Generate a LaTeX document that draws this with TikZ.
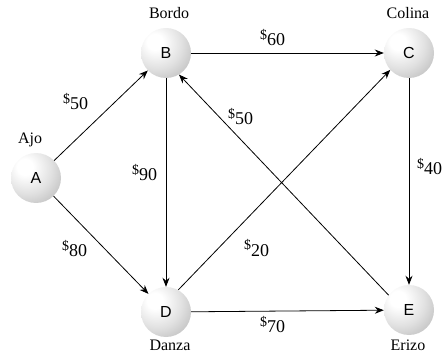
\documentclass[tikz,border=0pt]{standalone}
\usepackage{fontspec}
\setmainfont{Liberation Serif}
\newfontfamily\ballfont{Liberation Sans}
\usetikzlibrary{arrows.meta}
\pgfdeclareradialshading{sphereshade}{\pgfpoint{-12bp}{12bp}}{%
  color(0bp)=(white); color(8bp)=(white); color(25bp)=(black!12);
  color(45bp)=(black!30); color(62bp)=(black!45); color(100bp)=(black!45)}
\newcommand{\cost}[1]{\raisebox{6pt}{\fontsize{14}{14}\selectfont\$}#1}
\begin{document}
\begin{tikzpicture}[x=1pt,y=-1pt,
  ballnode/.style={circle, minimum size=50pt, inner sep=0pt, shading=sphereshade, font=\ballfont\fontsize{16}{16}\selectfont},
  namelbl/.style={font=\fontsize{16}{16}\selectfont},
  costlbl/.style={font=\fontsize{18}{18}\selectfont, anchor=base west, inner sep=0pt},
  edge/.style={draw, line width=0.8pt, -{Stealth[length=9pt,width=7pt]}}]
\useasboundingbox (0,0) rectangle (444,355);
\node[ballnode] (A) at (36,178) {A};
\node[ballnode] (B) at (166,53) {B};
\node[ballnode] (C) at (409,53) {C};
\node[ballnode] (D) at (166,312) {D};
\node[ballnode] (E) at (409,310) {E};
\node[namelbl] (lA) at (30,140) {Ajo};
\node[namelbl] (lB) at (169,13) {Bordo};
\node[namelbl] (lC) at (408,13) {Colina};
\node[namelbl] (lD) at (170,345) {Danza};
\node[namelbl] (lE) at (408,345) {Erizo};
\draw[edge] (A) -- (B);
\draw[edge] (A) -- (D);
\draw[edge] (B) -- (C);
\draw[edge] (B) -- (D);
\draw[edge] (D.61) -- (C.222);
\draw[edge] (E.144) -- (B.-59);
\draw[edge] (C) -- (E);
\draw[edge] (D) -- (E);
\node[costlbl] (cAB) at (63,110) {\cost{50}};
\node[costlbl] (cAD) at (62,257) {\cost{80}};
\node[costlbl] (cBC) at (260,46) {\cost{60}};
\node[costlbl] (cBD) at (132,181) {\cost{90}};
\node[costlbl] (cEB) at (228,125) {\cost{50}};
\node[costlbl] (cDC) at (244,256) {\cost{20}};
\node[costlbl] (cDE) at (260,332) {\cost{70}};
\node[costlbl] (cCE) at (417,175) {\cost{40}};
\end{tikzpicture}
\end{document}
